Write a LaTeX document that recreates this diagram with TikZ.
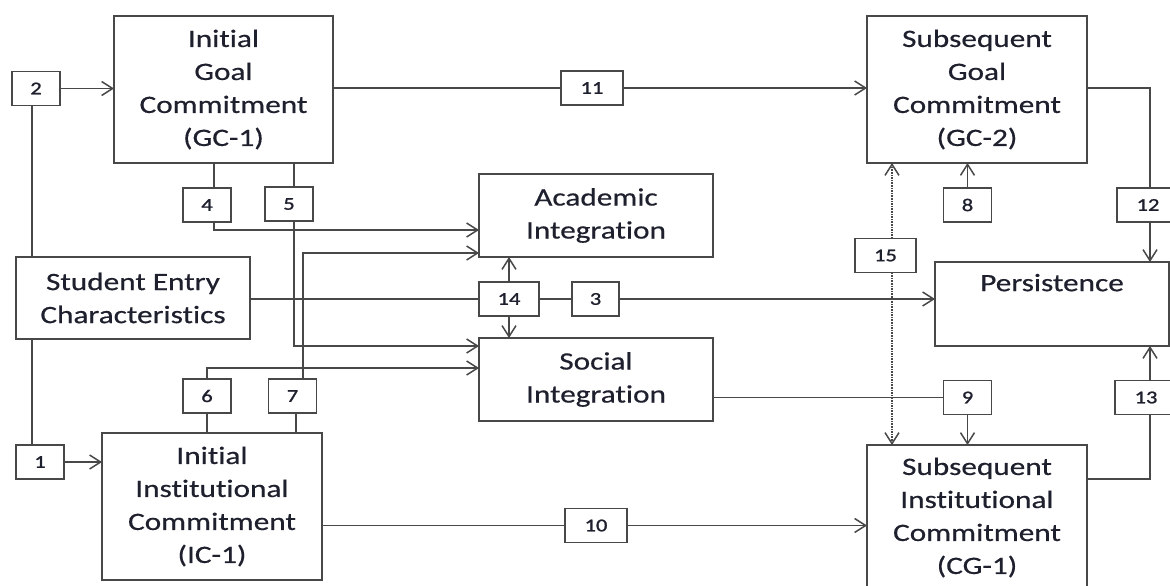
\documentclass[tikz,border=0pt]{standalone}
\usepackage{fontspec}
\setmainfont{Carlito}[FakeStretch=1.25, FakeBold=0.5, Ligatures=NoCommon]
\newfontfamily\numfont{Carlito}[FakeStretch=1.25, FakeBold=1.2, Ligatures=NoCommon]
\usetikzlibrary{arrows.meta,calc}
\definecolor{lc}{RGB}{72,72,72}
\definecolor{tc}{RGB}{30,32,45}
\tikzset{
  bigbox/.style={draw=lc, line width=2pt, fill=white, inner sep=0pt, outer sep=0pt, align=center, text=tc, font=\fontsize{25}{33}\selectfont},
  numbox/.style={draw=lc, line width=1.8pt, fill=white, inner sep=0pt, outer sep=0pt, minimum height=34, minimum width=48, text=tc, font=\numfont\fontsize{18}{22}\selectfont},
  widebox/.style={numbox, minimum width=62},
  conn/.style={draw=lc, line width=1.6pt},
  tip/.style={-{Straight Barb[length=11pt,width=14pt,line width=1.5pt]}},
  arr/.style={conn, tip},
  dotarr/.style={conn, densely dotted, tip}
}
\begin{document}
\begin{tikzpicture}[x=1pt,y=-1pt]
\useasboundingbox (0,0) rectangle (1170,586);
\clip (0,0) rectangle (1170,586);
\fill[white] (0,0) rectangle (1170,586);
% big boxes
\node[bigbox, minimum width=219, minimum height=147] (gc1) at (223.5,89.5) {Initial\\Goal\\Commitment\\(GC-1)};
\node[bigbox, minimum width=220, minimum height=147] (gc2) at (977,89.5) {Subsequent\\Goal\\Commitment\\(GC-2)};
\node[bigbox, minimum width=234, minimum height=82] (sec) at (133,298) {Student Entry\\Characteristics};
\node[bigbox, minimum width=234, minimum height=83] (aca) at (596,215.5) {Academic\\Integration};
\node[bigbox, minimum width=234, minimum height=83] (soc) at (596,379.5) {Social\\Integration};
\node[bigbox, minimum width=234, minimum height=84] (per) at (1052,304) {Persistence\\\strut};
\node[bigbox, minimum width=220, minimum height=147] (ic1) at (212,506.5) {Initial\\Institutional\\Commitment\\(IC-1)};
\node[bigbox, minimum width=220, minimum height=145] (sic) at (977,517.5) {Subsequent\\Institutional\\Commitment\\(CG-1)};
% number boxes
\node[numbox] (b2) at (36,88.5) {2};
\node[numbox] (b1) at (40,462) {1};
\node[numbox] (b4) at (207,205) {4};
\node[numbox] (b5) at (289,204) {5};
\node[numbox] (b6) at (207,396) {6};
\node[numbox] (b7) at (292.5,396) {7};
\node[numbox] (b8) at (967.5,205) {8};
\node[numbox] (b9) at (967.5,397.5) {9};
\node[numbox, minimum width=47] (b3) at (595.5,299) {3};
\node[widebox, minimum width=60] (b14) at (509,299) {14};
\node[widebox, minimum width=61] (b15) at (885.5,255.5) {15};
\node[widebox] (b11) at (592,88) {11};
\node[widebox] (b10) at (596,525.5) {10};
\node[widebox] (b12) at (1148,205) {12};
\node[widebox] (b13) at (1146,397.5) {13};
% connectors
\draw[arr] (b2.east) -- (b2.east -| gc1.west);
\draw[conn] ([xshift=-4]b2.south) -- ([xshift=-4]b2.south |- sec.north);
\draw[conn] ([xshift=-8]b1.north |- sec.south) -- ([xshift=-8]b1.north);
\draw[arr] (b1.east) -- (b1.east -| ic1.west);
\draw[conn] ([xshift=7]b4.north |- gc1.south) -- ([xshift=7]b4.north);
\draw[arr] ([xshift=7]b4.south) |- ([yshift=-14.5]aca.west);
\draw[conn] ([xshift=5]b5.north |- gc1.south) -- ([xshift=5]b5.north);
\draw[arr] ([xshift=5]b5.south) |- ([yshift=33.5]soc.west);
\draw[conn] (b6.south) -- (b6.south |- ic1.north);
\draw[arr] (b6.north) |- ([yshift=11.5]soc.west);
\draw[conn] ([xshift=3.5]b7.south) -- ([xshift=3.5]b7.south |- ic1.north);
\draw[arr] ([xshift=10.5]b7.north) |- ([yshift=-37.5]aca.west);
\draw[conn] (b14.west -| sec.east) -- (b14.west);
\draw[arr] (b14.north) -- (b14.north |- aca.south);
\draw[arr] (b14.south) -- (b14.south |- soc.north);
\draw[conn] (b14.east) -- (b3.west);
\draw[arr] (b3.east) -- (b3.east -| per.west);
\draw[conn] (b11.west -| gc1.east) -- (b11.west);
\draw[arr] (b11.east) -- (b11.east -| gc2.west);
\draw[conn] (b10.west -| ic1.east) -- (b10.west);
\draw[arr] (b10.east) -- (b10.east -| sic.west);
\draw[arr] (b8.north) -- (b8.north |- gc2.south);
\draw[conn] ([yshift=1.5]gc2.east) -| ([xshift=2]b12.north);
\draw[arr] ([xshift=2]b12.south) -- ([xshift=2]b12.south |- per.north);
\draw[conn] (b9.west -| soc.east) -- (b9.west);
\draw[arr] (b9.south) -- (b9.south |- sic.north);
\draw[conn] ([yshift=38.5]sic.east) -| ([xshift=4]b13.south);
\draw[arr] ([xshift=4]b13.north) -- ([xshift=4]b13.north |- per.south);
\draw[dotarr] ([xshift=6.5]b15.north) -- ([xshift=6.5]b15.north |- gc2.south);
\draw[dotarr] ([xshift=6.5]b15.south) -- ([xshift=6.5]b15.south |- sic.north);
\end{tikzpicture}
\end{document}
